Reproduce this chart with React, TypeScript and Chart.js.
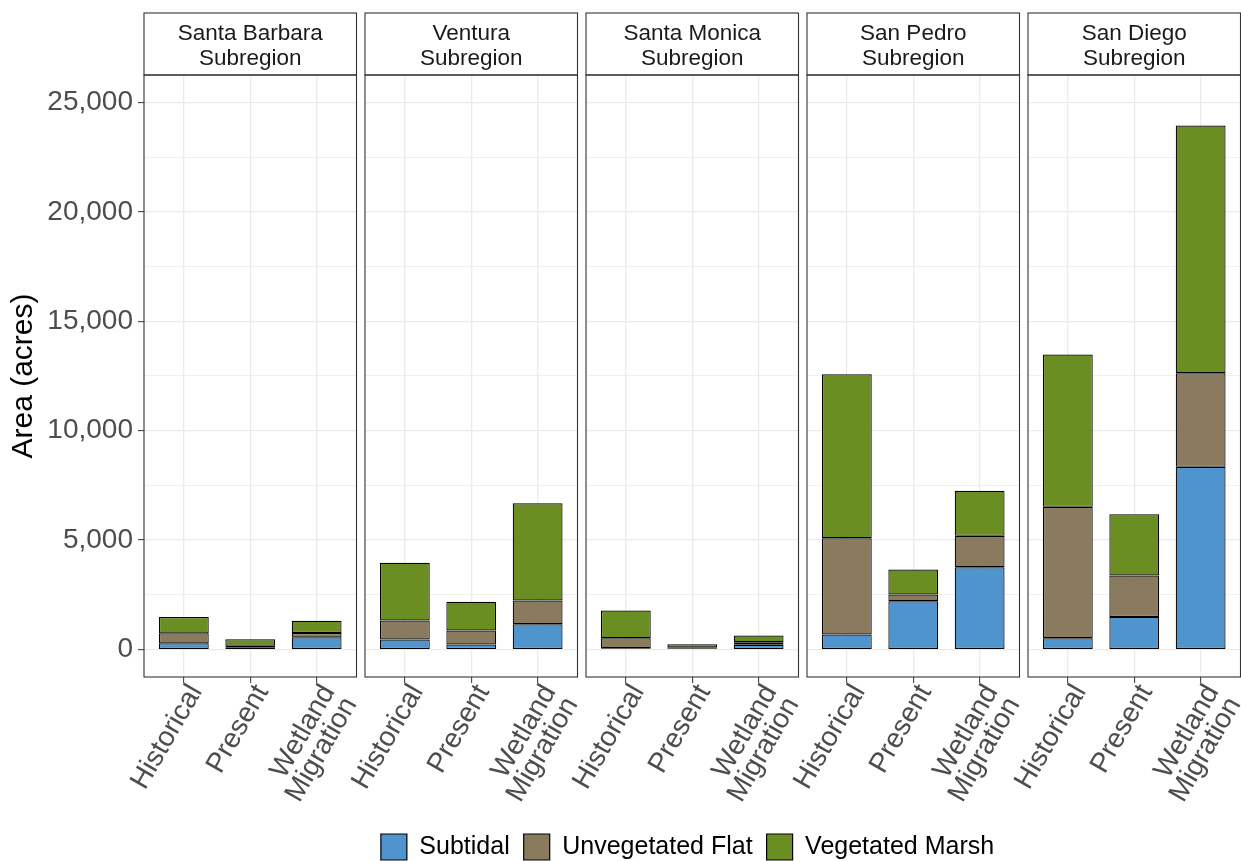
import React, { useEffect, useRef } from "react";
import { Chart, registerables } from "chart.js";

Chart.register(...registerables);

// ---------- data ----------
const subregions: string[][] = [
  ["Santa Barbara", "Subregion"],
  ["Ventura", "Subregion"],
  ["Santa Monica", "Subregion"],
  ["San Pedro", "Subregion"],
  ["San Diego", "Subregion"],
];
const periods: string[][] = [["Historical"], ["Present"], ["Wetland", "Migration"]];
const seriesNames = ["Subtidal", "Unvegetated Flat", "Vegetated Marsh"];

// acres, per subregion: [Historical, Present, Wetland Migration]
const subtidal = [
  [283, 100, 557],
  [457, 228, 1157],
  [60, 60, 220],
  [685, 2208, 3762],
  [518, 1492, 8346],
];
const unvegetatedFlat = [
  [457, 74, 197],
  [868, 640, 1082],
  [455, 40, 110],
  [4401, 305, 1431],
  [6000, 1889, 4279],
];
const vegetatedMarsh = [
  [745, 292, 562],
  [2635, 1310, 4446],
  [1265, 140, 310],
  [7493, 1142, 2056],
  [6960, 2802, 11315],
];

const yMajorTicks = [0, 5000, 10000, 15000, 20000, 25000];
const yMajorLabels = ["0", "5,000", "10,000", "15,000", "20,000", "25,000"];
const yMinorTicks = [2500, 7500, 12500, 17500, 22500];

// ---------- styles / layout ----------
const seriesColors = ["#4F94CD", "#8B7B5E", "#6B8E23"];
const FONT = "'Liberation Sans', Arial, sans-serif";
const W = 1241;
const H = 861;
const PANEL_LEFT = [144, 365, 586, 807, 1028];
const PANEL_W = 212.5;
const STRIP_TOP = 13;
const PANEL_TOP = 75;
const PANEL_BOTTOM = 677;
const Y_MIN = -1255;
const Y_MAX = 26250;

Chart.defaults.font.family = FONT;

const allSeries = [subtidal, unvegetatedFlat, vegetatedMarsh];

function makePanel(canvas: HTMLCanvasElement, r: number) {
  const first = r === 0;
  const left = PANEL_LEFT[r];
  const right = left + PANEL_W;
  const yTicks = [...yMajorTicks, ...yMinorTicks].sort((a, b) => a - b);
  const isMajor = (v: number) => yMajorTicks.indexOf(v) !== -1;

  const framePlugin = {
    id: "frame" + r,
    afterDraw(chart: any) {
      const { ctx, chartArea: a } = chart;
      ctx.save();
      // strip
      ctx.fillStyle = "#FFFFFF";
      ctx.fillRect(a.left, STRIP_TOP, a.right - a.left, a.top - STRIP_TOP);
      ctx.strokeStyle = "#333333";
      ctx.lineWidth = 1.1;
      ctx.strokeRect(a.left, STRIP_TOP, a.right - a.left, a.top - STRIP_TOP);
      ctx.fillStyle = "#1A1A1A";
      ctx.font = "22.5px " + FONT;
      ctx.textAlign = "center";
      ctx.textBaseline = "middle";
      const lines = subregions[r];
      const mid = STRIP_TOP + (a.top - STRIP_TOP) / 2 + 2.5;
      lines.forEach((ln, i) => {
        ctx.fillText(ln, (a.left + a.right) / 2, mid + (i - (lines.length - 1) / 2) * 24.8);
      });
      // panel border
      ctx.strokeRect(a.left, a.top, a.right - a.left, a.bottom - a.top);
      ctx.restore();
    },
  };

  return new Chart(canvas, {
    type: "bar",
    data: {
      datasets: seriesNames.map((name, s) => ({
        label: name,
        data: allSeries[s][r].map((v, i) => ({ x: i, y: v })),
        backgroundColor: seriesColors[s],
        borderColor: "#000000",
        borderWidth: 1.2,
        borderSkipped: false,
        barPercentage: 0.75,
        categoryPercentage: 1,
      })),
    },
    options: {
      responsive: false,
      animation: false,
      devicePixelRatio: 1,
      events: [],
      layout: {
        padding: { left: first ? 0 : left, right: W - right, top: PANEL_TOP, bottom: 0 },
      },
      plugins: {
        legend: { display: false },
        tooltip: { enabled: false },
      },
      scales: {
        x: {
          type: "linear",
          stacked: true,
          offset: false,
          min: -0.6,
          max: 2.6,
          afterBuildTicks: (s: any) => {
            s.ticks = periods.map((_, i) => ({ value: i }));
          },
          afterFit: (s: any) => {
            s.height = H - PANEL_BOTTOM;
            s.paddingLeft = 0;
            s.paddingRight = 0;
          },
          border: { display: false },
          grid: {
            offset: false,
            color: "#EBEBEB",
            lineWidth: 1.3,
            drawTicks: true,
            tickLength: 6,
            tickColor: "#333333",
            tickWidth: 1,
          },
          ticks: {
            autoSkip: false,
            minRotation: 60,
            maxRotation: 60,
            padding: -2,
            labelOffset: 12,
            color: "#4D4D4D",
            font: { size: 28, lineHeight: 0.9 },
            callback: (_v: any, i: number) => periods[i],
          },
        },
        y: {
          type: "linear",
          stacked: true,
          min: Y_MIN,
          max: Y_MAX,
          afterBuildTicks: (s: any) => {
            s.ticks = yTicks.map((v) => ({ value: v }));
          },
          afterFit: (s: any) => {
            s.width = first ? left : 0;
          },
          border: { display: false },
          grid: {
            color: "#EBEBEB",
            lineWidth: (ctx: any) => (ctx.tick && isMajor(ctx.tick.value) ? 1.3 : 0.7),
            drawTicks: first,
            tickLength: 6,
            tickWidth: 1,
            tickColor: (ctx: any) =>
              ctx.tick && isMajor(ctx.tick.value) ? "#333333" : "rgba(0,0,0,0)",
          },
          ticks: {
            display: first,
            padding: 5,
            color: "#4D4D4D",
            font: { size: 28 },
            callback: (v: any) => {
              const k = yMajorTicks.indexOf(Number(v));
              return k === -1 ? "" : yMajorLabels[k];
            },
          },
          title: {
            display: first,
            text: "Area (acres)",
            color: "#000000",
            font: { size: 30 },
            padding: { top: 5.5, bottom: 0 },
          },
        },
      },
    } as any,
    plugins: [framePlugin],
  });
}

function makeLegend(canvas: HTMLCanvasElement) {
  return new Chart(canvas, {
    type: "bar",
    data: {
      labels: [],
      datasets: seriesNames.map((name, s) => ({
        label: name,
        data: [],
        backgroundColor: seriesColors[s],
        borderColor: "#000000",
        borderWidth: 1.2,
      })),
    },
    options: {
      responsive: false,
      animation: false,
      devicePixelRatio: 1,
      events: [],
      layout: { padding: { left: PANEL_LEFT[0] - 10, right: 0, top: 0, bottom: 0 } },
      scales: { x: { display: false }, y: { display: false } },
      plugins: {
        tooltip: { enabled: false },
        legend: {
          display: true,
          position: "bottom",
          labels: {
            boxWidth: 26,
            boxHeight: 26,
            padding: 14,
            color: "#000000",
            font: { size: 25 },
          },
        },
      },
    } as any,
  });
}

export default function App() {
  const refs = useRef<(HTMLCanvasElement | null)[]>([]);

  useEffect(() => {
    const charts: Chart[] = [];
    subregions.forEach((_, r) => {
      const c = refs.current[r];
      if (c) charts.push(makePanel(c, r));
    });
    const lc = refs.current[subregions.length];
    if (lc) charts.push(makeLegend(lc));
    return () => charts.forEach((c) => c.destroy());
  }, []);

  const canvasStyle = (i: number): React.CSSProperties => ({
    position: "absolute",
    left: 0,
    top: i === subregions.length ? 9 : 0,
    width: W,
    height: H,
    display: "block",
  });

  return (
    <div
      style={{
        position: "absolute",
        left: 0,
        top: 0,
        width: W,
        height: H,
        background: "#FFFFFF",
        overflow: "hidden",
      }}
    >
      {[...subregions, null].map((_, i) => (
        <canvas
          key={i}
          ref={(el) => {
            refs.current[i] = el;
          }}
          width={W}
          height={H}
          style={canvasStyle(i)}
        />
      ))}
    </div>
  );
}
